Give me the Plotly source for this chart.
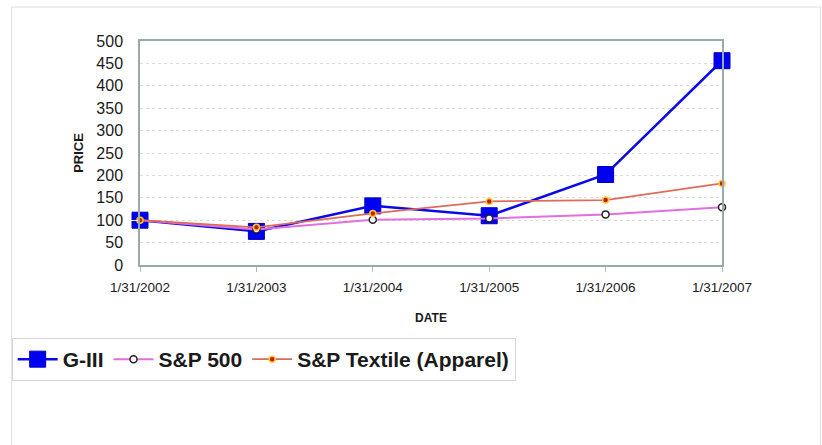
import plotly.graph_objects as go

dates = ["1/31/2002", "1/31/2003", "1/31/2004", "1/31/2005", "1/31/2006", "1/31/2007"]
g3 = [100, 75, 132, 110, 202, 456]
sp500 = [100, 79, 101, 104, 113, 129]
textile = [100, 84, 115, 142, 145, 182]

L, R, T, B = 137, 722, 41, 265
W, H = 822, 445
pw, ph = R - L, B - T

def px(x):
    return (x - L) / pw

def py(y):
    return (B - y) / ph

fig = go.Figure()
fig.add_trace(go.Scatter(x=dates, y=g3, name="G-III", mode="lines+markers", cliponaxis=False,
                         line=dict(color="#0a0ae6", width=2.5),
                         marker=dict(symbol="square", size=16, color="#0000f0",
                                     line=dict(color="#0000c0", width=1))))
fig.add_trace(go.Scatter(x=dates, y=sp500, name="S&P 500", mode="lines+markers", cliponaxis=False,
                         line=dict(color="#e070e0", width=2),
                         marker=dict(symbol="circle", size=7, color="white",
                                     line=dict(color="#222", width=1.5))))
fig.add_trace(go.Scatter(x=dates, y=textile, name="S&P Textile (Apparel)", mode="lines+markers",
                         cliponaxis=False,
                         line=dict(color="#e06a5a", width=1.8),
                         marker=dict(symbol="circle", size=6, color="#c02000",
                                     line=dict(color="#ffc840", width=1.5))))

fig.update_layout(
    width=W, height=H,
    margin=dict(l=L, r=W - R, t=T, b=H - B),
    paper_bgcolor="white", plot_bgcolor="white",
    font=dict(family="Liberation Sans, Arial, sans-serif", color="#1a1a1a"),
    xaxis=dict(type="category", range=[0, 5], showgrid=False,
               ticks="outside", ticklen=5, tickcolor="#bbb", ticklabelstandoff=4,
               showline=True, linecolor="#9aaaaa", linewidth=1.5, mirror=True,
               tickfont=dict(size=13.5), zeroline=False,
               title=dict(text="<b>DATE</b>", font=dict(size=12), standoff=20)),
    yaxis=dict(range=[0, 500], dtick=50, showgrid=True, gridcolor="#dcdcdc",
               griddash="dot", gridwidth=1,
               ticks="outside", ticklen=12, tickcolor="white",
               showline=True, linecolor="#9aaaaa", linewidth=1.5, mirror=True,
               tickfont=dict(size=16), zeroline=False,
               title=dict(text="<b>PRICE</b>", font=dict(size=13), standoff=10)),
    legend=dict(orientation="h", x=px(8), y=py(338), xanchor="left", yanchor="top",
                bordercolor="#d8d8d8", borderwidth=1, bgcolor="white",
                font=dict(size=21, family="Liberation Sans, Arial, sans-serif", weight="bold"),
                itemwidth=40, tracegroupgap=0),
    showlegend=True,
)
fig.add_shape(type="rect", xref="paper", yref="paper",
              x0=px(8), x1=px(821), y0=py(7), y1=py(460),
              line=dict(color="#dddddd", width=1), fillcolor="rgba(0,0,0,0)", layer="below")
fig.write_html("out.html")
